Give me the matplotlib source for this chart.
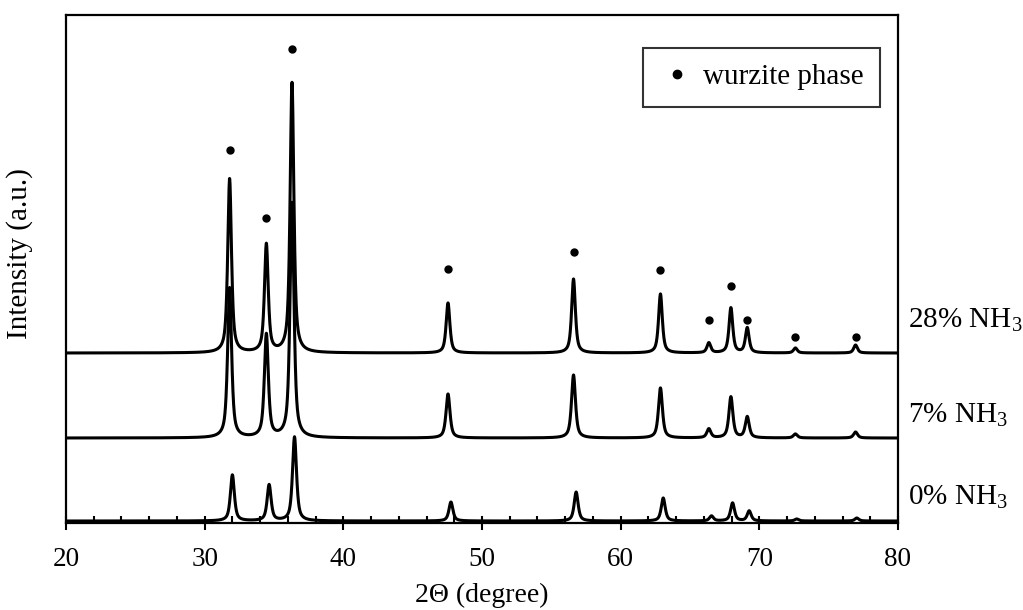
import numpy as np
import matplotlib
matplotlib.use("Agg")
import matplotlib.pyplot as plt
from matplotlib.lines import Line2D

plt.rcParams['font.family'] = ['Liberation Serif', 'DejaVu Serif']
plt.rcParams['mathtext.fontset'] = 'custom'
plt.rcParams['mathtext.rm'] = 'Liberation Serif'

# peak positions (2theta) and heights (a.u., stacked)
pos_28 = [31.80, 34.45, 36.30, 47.55, 56.60, 62.87, 66.36, 67.95, 69.13, 72.60, 76.94]
amp_28 = [174, 108, 270, 50, 74, 59, 10, 45, 25, 5, 8]
pos_7 = [31.80, 34.45, 36.30, 47.55, 56.60, 62.87, 66.36, 67.95, 69.13, 72.60, 76.94]
amp_7 = [150, 103, 235, 44, 63, 50, 9, 41, 21, 4, 6]
pos_0 = [32.00, 34.65, 36.48, 47.76, 56.79, 63.07, 66.55, 68.07, 69.27, 72.70, 77.03]
amp_0 = [46, 36, 84, 19, 29, 23, 5, 18, 10, 2, 3]

# baseline of each pattern
base_28 = 170
base_7 = 85
base_0 = 2

# wurzite markers above the 28% pattern
dot_x = pos_28
dot_y = [373, 305, 474, 254, 271, 253, 203, 237, 203, 186, 186]

labels = ['28% NH$_3$', '7% NH$_3$', '0% NH$_3$']
label_y = [203, 108, 26]

theta = np.linspace(20, 80, 6001)


def pattern(pos, amp, base, fwhm):
    y = np.full_like(theta, float(base))
    g = fwhm / 2.0
    for c, h in zip(pos, amp):
        lor = 1.0 / (1.0 + ((theta - c) / g) ** 2)
        gau = np.exp(-np.log(2) * ((theta - c) / g) ** 2)
        y += h * (0.7 * lor + 0.3 * gau)
    return y


fig = plt.figure(figsize=(10.23, 6.10), dpi=100)
ax = fig.add_axes([0.0645, 0.1426, 0.8133, 0.8328])

ax.plot(theta, pattern(pos_28, amp_28, base_28, 0.32), color='black', lw=2.2)
ax.plot(theta, pattern(pos_7, amp_7, base_7, 0.34), color='black', lw=2.2)
ax.plot(theta, pattern(pos_0, amp_0, base_0, 0.34), color='black', lw=2.2)

ax.plot(dot_x, dot_y, 'o', color='black', markersize=5, ls='none')

for t, yy in zip(labels, label_y):
    ax.text(80.7, yy, t, fontsize=21, va='center', ha='left')

ax.set_xlim(20, 80)
ax.set_ylim(0, 508)
ax.set_xticks(np.arange(20, 81, 10))
ax.set_xticks(np.arange(20, 81, 2), minor=True)
ax.set_yticks([])
ax.tick_params(axis='x', which='major', direction='inout', length=10, width=1.5,
               labelsize=19.5, pad=12)
ax.tick_params(axis='x', which='minor', direction='in', length=5, width=1.5)
for s in ax.spines.values():
    s.set_linewidth(1.6)

ax.set_xlabel('2Θ (degree)', fontsize=20, labelpad=8)
ax.set_ylabel('Intensity (a.u.)', fontsize=21)
ax.yaxis.set_label_coords(-0.04, 0.53)

h = Line2D([], [], marker='o', color='black', ls='none', markersize=6)
leg = ax.legend([h], ['wurzite phase'], loc='upper right',
                bbox_to_anchor=(0.978, 0.935), borderaxespad=0, fontsize=21,
                frameon=True, fancybox=False, handletextpad=0.3,
                borderpad=0.55, handlelength=1.2)
leg.get_frame().set_edgecolor('black')
leg.get_frame().set_linewidth(1.5)

fig.savefig('out.png', dpi=100)
